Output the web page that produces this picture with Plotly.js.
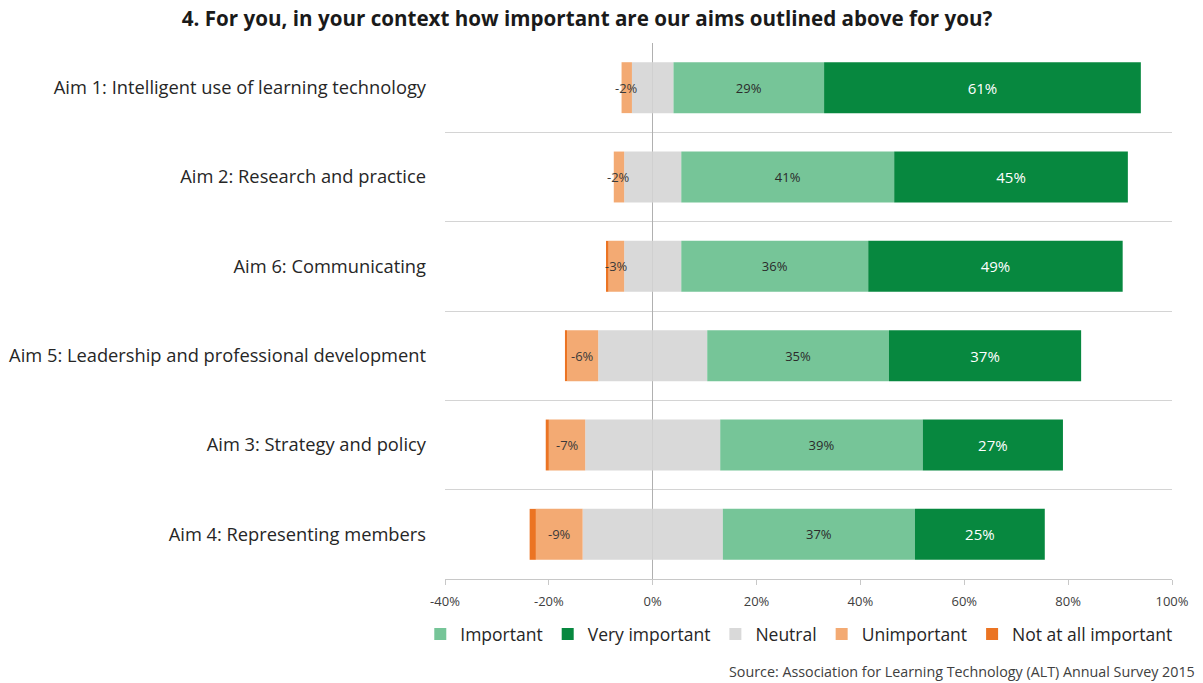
<!DOCTYPE html>
<html>
<head>
<meta charset="utf-8">
<script src="https://cdn.plot.ly/plotly-3.0.1.min.js"></script>
<style>
  html, body { margin: 0; padding: 0; background: #ffffff; }
  #chart { width: 1203px; height: 683px; }
</style>
</head>
<body>
<div id="chart"></div>
<script>
// Survey aims, listed top to bottom
const aims = [
  "Aim 1: Intelligent use of learning technology",
  "Aim 2: Research and practice",
  "Aim 6: Communicating",
  "Aim 5: Leadership and professional development",
  "Aim 3: Strategy and policy",
  "Aim 4: Representing members"
];

// Share of respondents (%) per answer
const veryImportant = [61, 45, 49, 37, 27, 25];
const important     = [29, 41, 36, 35, 39, 37];
const neutral       = [8, 11, 11, 21, 26, 27];
const unimportant   = [2, 2, 3, 6, 7, 9];
const notAtAll      = [0, 0, 0.5, 0.4, 0.6, 1.2];

const xTickVals = [-40, -20, 0, 20, 40, 60, 80, 100];
const xTickText = ["-40%", "-20%", "0%", "20%", "40%", "60%", "80%", "100%"];

const COLORS = {
  important: "#76C598",
  very: "#07883F",
  neutral: "#D9D9D9",
  unimportant: "#F3AA73",
  notAtAll: "#EB7423"
};

const FONT = "'Open Sans', 'DejaVu Sans', sans-serif";

// Neutral answers are split evenly either side of zero
const neutralLeft = neutral.map(v => -v / 2);
const neutralRight = neutral.map(v => v / 2);

const base = {
  type: "bar",
  orientation: "h",
  y: aims,
  hoverinfo: "skip",
  textangle: 0,
  constraintext: "none",
  insidetextanchor: "middle",
  marker: { line: { width: 0 } }
};

const traces = [
  Object.assign({}, base, {
    name: "Neutral", x: neutralLeft, legendrank: 3, legendgroup: "neutral",
    showlegend: true, marker: { color: COLORS.neutral }, textposition: "none"
  }),
  Object.assign({}, base, {
    name: "Unimportant", x: unimportant.map(v => -v), legendrank: 4,
    marker: { color: COLORS.unimportant }, textposition: "none"
  }),
  Object.assign({}, base, {
    name: "Not at all important", x: notAtAll.map(v => -v), legendrank: 5,
    marker: { color: COLORS.notAtAll }, textposition: "none"
  }),
  Object.assign({}, base, {
    name: "Neutral", x: neutralRight, legendgroup: "neutral", showlegend: false,
    marker: { color: COLORS.neutral }, textposition: "none"
  }),
  Object.assign({}, base, {
    name: "Important", x: important, legendrank: 1,
    marker: { color: COLORS.important },
    texttemplate: "%{x}%", textposition: "inside",
    textfont: { family: FONT, size: 13, color: "#2b2b2b" }
  }),
  Object.assign({}, base, {
    name: "Very important", x: veryImportant, legendrank: 2,
    marker: { color: COLORS.very },
    texttemplate: "%{x}%", textposition: "inside",
    textfont: { family: FONT, size: 15, color: "#ffffff" }
  })
];

// "Unimportant" labels sit centred on their segment, above every bar
const unimportantLabels = aims.map((aim, i) => ({
  xref: "x", yref: "y",
  x: -(neutral[i] / 2 + unimportant[i] / 2),
  y: aim,
  text: "-" + unimportant[i] + "%",
  showarrow: false,
  xanchor: "center", yanchor: "middle",
  font: { family: FONT, size: 13, color: "#3a3a3a" }
}));

const layout = {
  width: 1203,
  height: 683,
  paper_bgcolor: "#ffffff",
  plot_bgcolor: "#ffffff",
  font: { family: FONT, color: "#262626" },
  margin: { l: 445, r: 31, t: 43, b: 104, pad: 0, autoexpand: false },
  barmode: "relative",
  bargap: 0.43,
  title: {
    text: "<b>4. For you, in your context how important are our aims outlined above for you?</b>",
    font: { family: FONT, size: 20.6, color: "#1a1a1a" },
    x: 0.488, xref: "container", xanchor: "center",
    y: 0.972, yref: "container", yanchor: "middle"
  },
  xaxis: {
    range: [-40, 100],
    tickvals: xTickVals,
    ticktext: xTickText,
    tickfont: { family: FONT, size: 13, color: "#404040" },
    showgrid: false,
    zeroline: true,
    zerolinecolor: "#b0b0b0",
    zerolinewidth: 1,
    showline: true,
    linecolor: "#c8c8c8",
    linewidth: 1,
    ticks: "outside",
    ticklen: 5,
    tickcolor: "#c8c8c8",
    ticklabelstandoff: 5,
    fixedrange: true
  },
  yaxis: {
    type: "category",
    categoryorder: "array",
    categoryarray: aims,
    autorange: "reversed",
    tickson: "boundaries",
    ticks: "",
    showgrid: true,
    gridcolor: "#d4d4d4",
    gridwidth: 1,
    showline: false,
    zeroline: false,
    ticklabelstandoff: 18,
    tickfont: { family: FONT, size: 18.3, color: "#262626" },
    fixedrange: true
  },
  legend: {
    orientation: "h",
    x: -0.034, xref: "paper", xanchor: "left",
    y: -0.103, yref: "paper", yanchor: "middle",
    font: { family: FONT, size: 17.5, color: "#262626" },
    traceorder: "normal",
    itemwidth: 30
  },
  annotations: unimportantLabels.concat([{
    text: "Source: Association for Learning Technology (ALT) Annual Survey 2015",
    xref: "paper", yref: "paper",
    x: 1.034, y: -0.173,
    xanchor: "right", yanchor: "middle",
    showarrow: false,
    font: { family: FONT, size: 14.3, color: "#404040" }
  }])
};

Plotly.newPlot("chart", traces, layout, { displayModeBar: false, staticPlot: true });
</script>
</body>
</html>
